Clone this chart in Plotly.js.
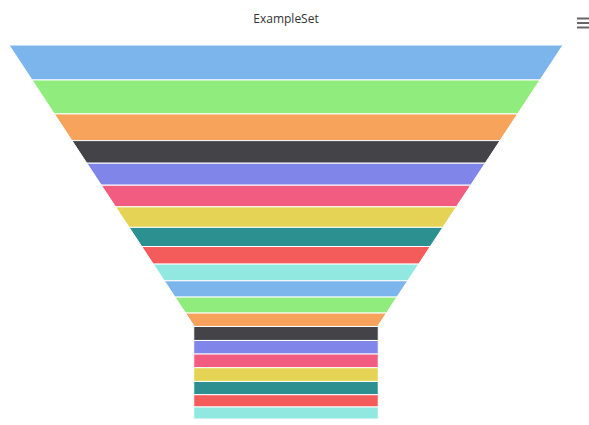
<!DOCTYPE html>
<html>
<head>
<meta charset="utf-8">
<script src="https://cdn.plot.ly/plotly-3.0.1.min.js"></script>
<style>html,body{margin:0;padding:0;background:#fff;}#chart{width:589px;height:425px;}</style>
</head>
<body>
<div id="chart"></div>
<script>
var categories = ["Item 1","Item 2","Item 3","Item 4","Item 5","Item 6","Item 7","Item 8","Item 9","Item 10",
                  "Item 11","Item 12","Item 13","Item 14","Item 15","Item 16","Item 17","Item 18","Item 19","Item 20"];
var values = [35, 34, 26.7, 22.6, 22, 21.7, 20.5, 19.2, 17.6, 16.7,
              16.3, 16, 13.4, 14, 13.6, 13.7, 13.7, 13.3, 12.3, 12];
var palette = ["#7cb5ec","#90ed7d","#f7a35c","#434348","#8085e9","#f15c80","#e4d354","#2b908f","#f45b5b","#91e8e1"];

// Funnel geometry parameters
var neckHeightFrac = 0.25;   // share of total height taken by the neck
var neckWidthFrac = 0.333;   // neck width relative to top width

var total = values.reduce(function(a,b){return a+b;},0);
var neckStart = total*(1-neckHeightFrac);
function halfW(v){ return v <= neckStart ? 1-(1-neckWidthFrac)*(v/neckStart) : neckWidthFrac; }

var traces = [];
var cum = 0;
values.forEach(function(val,i){
  var a = cum, b = cum + val;
  cum = b;
  var xs = [-halfW(a), halfW(a)], ys = [a, a];
  var cross = a < neckStart && b > neckStart;
  if (cross){ xs.push(halfW(neckStart)); ys.push(neckStart); }
  xs.push(halfW(b)); ys.push(b);
  xs.push(-halfW(b)); ys.push(b);
  if (cross){ xs.push(-halfW(neckStart)); ys.push(neckStart); }
  xs.push(-halfW(a)); ys.push(a);
  traces.push({
    type:"scatter", mode:"lines", x:xs, y:ys, fill:"toself",
    fillcolor: palette[i % palette.length],
    line:{color:"#ffffff", width:1},
    name: categories[i],
    hoveron:"fills",
    text: categories[i] + ": " + val,
    hoverinfo:"text"
  });
});

var W = 589, H = 425;
var L = 9, R = 26, T = 45, B = 6;
var pw = W-L-R, ph = H-T-B;
function px2paperX(px){ return (px-L)/pw; }
function px2paperY(py){ return (H-B-py)/ph; }
var menuShapes = [18.5, 23, 27.5].map(function(py){
  return {type:"line", xref:"paper", yref:"paper",
          x0:px2paperX(577), x1:px2paperX(589), y0:px2paperY(py), y1:px2paperY(py),
          line:{color:"#666666", width:2}};
});

var layout = {
  width:W, height:H,
  margin:{l:L, r:R, t:T, b:B, pad:0},
  paper_bgcolor:"#ffffff", plot_bgcolor:"#ffffff",
  showlegend:false,
  title:{text:"ExampleSet", font:{family:"Open Sans, sans-serif", size:12, color:"#333333"},
         xref:"paper", x:0.5, xanchor:"center", yref:"container", y:1-19/H, yanchor:"middle"},
  xaxis:{range:[-1,1], visible:false, fixedrange:true},
  yaxis:{range:[total,0], visible:false, fixedrange:true},
  shapes: menuShapes,
  hovermode:"closest"
};

Plotly.newPlot("chart", traces, layout, {displayModeBar:false, responsive:false});
</script>
</body>
</html>
